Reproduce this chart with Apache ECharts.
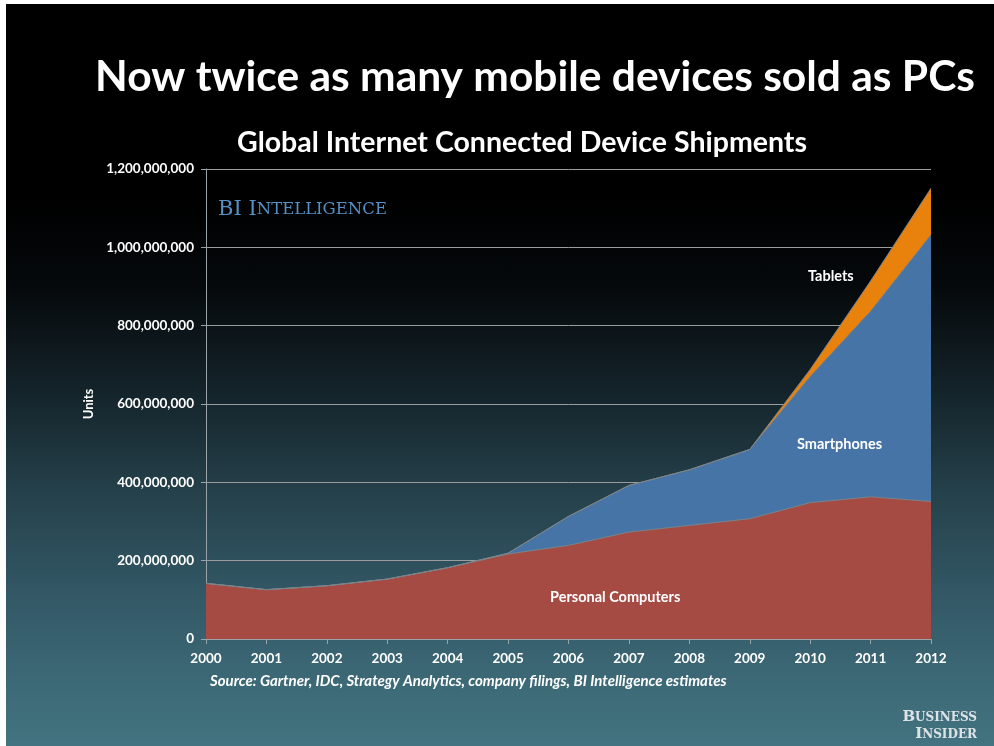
<!DOCTYPE html>
<html>
<head>
<meta charset="utf-8">
<script src="https://cdn.jsdelivr.net/npm/echarts@6/dist/echarts.min.js"></script>
<style>
  html, body { margin: 0; padding: 0; background: #ffffff; }
  #slide {
    position: absolute; left: 6px; top: 4px; width: 988px; height: 742px;
    background: linear-gradient(to bottom, #000000 0%, #000000 26%, #05090b 38%, #14232a 52%, #25414b 66%, #335866 80%, #3d6a77 92%, #437380 100%);
  }
  #chart { position: absolute; left: 0; top: 0; width: 994px; height: 746px; }
</style>
</head>
<body>
<div id="slide"></div>
<div id="chart"></div>
<script>
// Global internet-connected device shipments (units), stacked by device type
const years = ['2000','2001','2002','2003','2004','2005','2006','2007','2008','2009','2010','2011','2012'];
const personalComputers = [142e6, 126e6, 136e6, 153e6, 182e6, 217e6, 239e6, 273e6, 290e6, 307e6, 348e6, 363e6, 351e6];
const smartphones       = [0, 0, 0, 0, 0, 2e6, 74e6, 119e6, 142e6, 177e6, 322e6, 474e6, 681e6];
const tablets           = [0, 0, 0, 0, 0, 0, 0, 0, 0, 0, 18e6, 77e6, 119e6];
const yTicks = { min: 0, max: 1200000000, interval: 200000000 };

const FONT = 'Lato, "Open Sans", sans-serif';
const SERIF = '"DejaVu Serif", "Liberation Serif", serif';

const chart = echarts.init(document.getElementById('chart'), null, { renderer: 'canvas' });

function fmt(v) {
  return String(v).replace(/\B(?=(\d{3})+(?!\d))/g, ',');
}

function areaSeries(name, data, color) {
  return {
    name: name,
    type: 'line',
    stack: 'devices',
    data: data,
    symbol: 'none',
    smooth: false,
    lineStyle: { width: 1, color: '#7d8489' },
    areaStyle: { color: color, opacity: 1 },
    itemStyle: { color: color },
    emphasis: { disabled: true }
  };
}

chart.setOption({
  backgroundColor: 'transparent',
  animation: false,
  textStyle: { fontFamily: FONT },
  title: [
    {
      text: 'Now twice as many mobile devices sold as PCs',
      left: 530, top: 51, textAlign: 'center',
      textStyle: { color: '#ffffff', fontSize: 42.5, fontWeight: 'bold', fontFamily: FONT,
                   textShadowColor: 'rgba(0,0,0,0.6)', textShadowBlur: 3, textShadowOffsetX: 2, textShadowOffsetY: 2 }
    },
    {
      text: 'Global Internet Connected Device Shipments',
      left: 517, top: 123, textAlign: 'center',
      textStyle: { color: '#ffffff', fontSize: 28.5, fontWeight: 'bold', fontFamily: FONT }
    }
  ],
  grid: { left: 206, right: 63, top: 169, bottom: 107, containLabel: false },
  xAxis: {
    type: 'category',
    data: years,
    boundaryGap: false,
    axisLine: { lineStyle: { color: '#9aa3a8', width: 1 } },
    axisTick: { show: true, alignWithLabel: true, length: 5, lineStyle: { color: '#9aa3a8' } },
    axisLabel: { color: '#ffffff', fontSize: 13.5, fontWeight: 'bold', fontFamily: FONT, margin: 13 },
    splitLine: { show: false }
  },
  yAxis: {
    type: 'value',
    min: yTicks.min, max: yTicks.max, interval: yTicks.interval,
    name: 'Units',
    nameLocation: 'middle',
    nameGap: 110,
    nameRotate: 90,
    nameTextStyle: { color: '#ffffff', fontSize: 13, fontWeight: 'bold', fontFamily: FONT },
    axisLine: { show: true, lineStyle: { color: '#9aa3a8', width: 1 } },
    axisTick: { show: true, length: 5, lineStyle: { color: '#9aa3a8' } },
    axisLabel: { color: '#ffffff', fontSize: 13.5, fontWeight: 'bold', fontFamily: FONT, margin: 12,
                 formatter: fmt },
    splitLine: { show: true, lineStyle: { color: '#9c9c9c', width: 1 } }
  },
  series: [
    areaSeries('Personal Computers', personalComputers, '#a64a44'),
    areaSeries('Smartphones', smartphones, '#4774a6'),
    areaSeries('Tablets', tablets, '#e8820c')
  ],
  graphic: [
    { type: 'text', left: 218, top: 199, z: 10,
      style: { text: '{a|BI I}{b|NTELLIGENCE}', fill: '#5590c6',
        rich: {
          a: { fontFamily: SERIF, fontSize: 21, fill: '#5590c6' },
          b: { fontFamily: SERIF, fontSize: 16.5, fill: '#5590c6' }
        } } },
    { type: 'text', left: 808, top: 269, z: 10,
      style: { text: 'Tablets', fill: '#ffffff', font: 'bold 14.5px ' + FONT } },
    { type: 'text', left: 797, top: 437, z: 10,
      style: { text: 'Smartphones', fill: '#ffffff', font: 'bold 14.5px ' + FONT } },
    { type: 'text', left: 550, top: 590, z: 10,
      style: { text: 'Personal Computers', fill: '#ffffff', font: 'bold 14.5px ' + FONT } },
    { type: 'text', left: 210, top: 674, z: 10,
      style: { text: 'Source: Gartner, IDC, Strategy Analytics, company filings, BI Intelligence estimates',
               fill: '#ffffff', font: 'italic bold 15px ' + FONT } },
    { type: 'text', right: 17, top: 710, z: 10,
      style: { text: '{a|B}{b|USINESS}', rich: {
          a: { fontFamily: SERIF, fontSize: 15, fontWeight: 'bold', fill: '#dde3e6' },
          b: { fontFamily: SERIF, fontSize: 12, fontWeight: 'bold', fill: '#dde3e6' } } } },
    { type: 'text', right: 17, top: 727, z: 10,
      style: { text: '{a|I}{b|NSIDER}', rich: {
          a: { fontFamily: SERIF, fontSize: 15, fontWeight: 'bold', fill: '#dde3e6' },
          b: { fontFamily: SERIF, fontSize: 12, fontWeight: 'bold', fill: '#dde3e6' } } } }
  ]
});
</script>
</body>
</html>
